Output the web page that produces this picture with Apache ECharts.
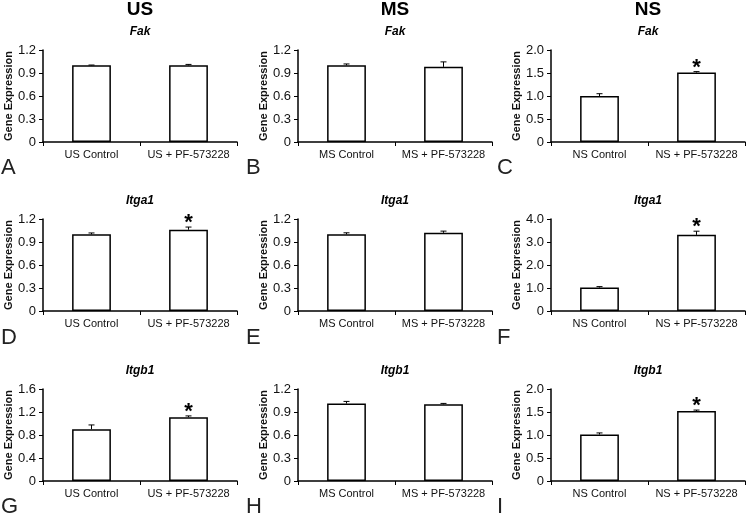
<!DOCTYPE html>
<html>
<head>
<meta charset="utf-8">
<script src="https://cdn.jsdelivr.net/npm/echarts@6/dist/echarts.min.js"></script>
<style>
html,body{margin:0;padding:0;background:#fff;}
#chart{width:750px;height:515px;}
</style>
</head>
<body>
<div id="chart"></div>
<script>
// ---- data ----
const groups = ['US', 'MS', 'NS'];
const genes = ['Fak', 'Itga1', 'Itgb1'];
const panelLetters = ['A', 'B', 'C', 'D', 'E', 'F', 'G', 'H', 'I'];
const categoriesUS = ['US Control', 'US + PF-573228'];
const categoriesMS = ['MS Control', 'MS + PF-573228'];
const categoriesNS = ['NS Control', 'NS + PF-573228'];

// means [control, treated] per group (US, MS, NS)
const fakMeans   = [[1.00, 1.00], [1.00, 0.98], [1.00, 1.51]];
const fakErrors  = [[0.004, 0.012], [0.018, 0.065], [0.05, 0.02]];
const fakSig     = [[0, 0], [0, 0], [0, 1]];

const itga1Means  = [[1.00, 1.06], [1.00, 1.02], [1.02, 3.31]];
const itga1Errors = [[0.018, 0.035], [0.02, 0.022], [0.04, 0.16]];
const itga1Sig    = [[0, 1], [0, 0], [0, 1]];

const itgb1Means  = [[0.90, 1.11], [1.01, 1.00], [1.01, 1.52]];
const itgb1Errors = [[0.075, 0.022], [0.028, 0.012], [0.035, 0.022]];
const itgb1Sig    = [[0, 1], [0, 0], [0, 1]];

// y-axis ranges (max, interval) per panel A..I
const axisMax      = [1.2, 1.2, 2.0, 1.2, 1.2, 4.0, 1.6, 1.2, 2.0];
const axisInterval = [0.3, 0.3, 0.5, 0.3, 0.3, 1.0, 0.4, 0.3, 0.5];

// ---- layout ----
const colLeft = [43, 298, 551];
const rowTop = [50, 219, 389];
const plotW = 194, plotH = 92;
const colLetterX = [1, 246, 497];
const letterTop = [157, 327, 496];

const categoriesByGroup = [categoriesUS, categoriesMS, categoriesNS];
const meansByGene = [fakMeans, itga1Means, itgb1Means];
const errorsByGene = [fakErrors, itga1Errors, itgb1Errors];
const sigByGene = [fakSig, itga1Sig, itgb1Sig];

const FONT = '"Liberation Sans", Arial, sans-serif';

const grids = [], xAxes = [], yAxes = [], series = [], graphics = [];

for (let r = 0; r < 3; r++) {
  for (let c = 0; c < 3; c++) {
    const i = r * 3 + c;
    grids.push({left: colLeft[c], top: rowTop[r], width: plotW, height: plotH, containLabel: false});
    xAxes.push({
      type: 'category', gridIndex: i, data: categoriesByGroup[c],
      axisLine: {lineStyle: {color: '#000', width: 1.5}},
      axisTick: {show: true, length: 4, lineStyle: {color: '#000', width: 1}},
      axisLabel: {color: '#111', fontSize: 11, fontFamily: FONT, margin: 7, interval: 0}
    });
    yAxes.push({
      type: 'value', gridIndex: i, min: 0, max: axisMax[i], interval: axisInterval[i],
      name: 'Gene Expression', nameLocation: 'middle', nameGap: 28,
      nameTextStyle: {color: '#111', fontSize: 11, fontWeight: 'bold', fontFamily: FONT},
      axisLine: {show: true, lineStyle: {color: '#000', width: 1.5}},
      axisTick: {show: true, length: 4, lineStyle: {color: '#000', width: 1}},
      splitLine: {show: false},
      axisLabel: {color: '#111', fontSize: 13, fontFamily: FONT, margin: 7,
        formatter: v => v === 0 ? '0' : v.toFixed(1)}
    });
    const means = meansByGene[r][c];
    const errs = errorsByGene[r][c];
    const sig = sigByGene[r][c];
    series.push({
      type: 'bar', xAxisIndex: i, yAxisIndex: i, data: means, barWidth: '40%',
      itemStyle: {color: '#fff', borderColor: '#000', borderWidth: 1.5},
      silent: true, animation: false
    });
    series.push({
      type: 'custom', xAxisIndex: i, yAxisIndex: i, z: 5, animation: false, silent: true,
      data: means.map((m, k) => [k, m, errs[k], sig[k]]),
      renderItem: function (params, api) {
        const k = api.value(0), m = api.value(1), e = api.value(2), s = api.value(3);
        const base = api.coord([k, m]);
        const top = api.coord([k, m + e]);
        const children = [
          {type: 'line', shape: {x1: base[0], y1: base[1], x2: top[0], y2: top[1]},
           style: {stroke: '#000', lineWidth: 1}},
          {type: 'line', shape: {x1: top[0] - 3, y1: top[1], x2: top[0] + 3, y2: top[1]},
           style: {stroke: '#000', lineWidth: 1}}
        ];
        if (s) {
          children.push({type: 'text', style: {text: '*', x: top[0], y: top[1] - 4,
            textAlign: 'center', textVerticalAlign: 'middle',
            font: 'bold 22px ' + FONT, fill: '#000'}});
        }
        return {type: 'group', children: children};
      }
    });
    // gene title
    graphics.push({type: 'text', x: colLeft[c] + plotW / 2, y: rowTop[r] - 18,
      style: {text: genes[r], textAlign: 'center', textVerticalAlign: 'middle',
        font: 'italic bold 12px ' + FONT, fill: '#000'}});
    // panel letter
    graphics.push({type: 'text', x: colLetterX[c], y: letterTop[r],
      style: {text: panelLetters[i], textAlign: 'left', textVerticalAlign: 'top',
        font: '22px ' + FONT, fill: '#222'}});
  }
}
for (let c = 0; c < 3; c++) {
  graphics.push({type: 'text', x: colLeft[c] + plotW / 2, y: 10,
    style: {text: groups[c], textAlign: 'center', textVerticalAlign: 'middle',
      font: 'bold 19px ' + FONT, fill: '#000'}});
}

const chart = echarts.init(document.getElementById('chart'), null, {renderer: 'canvas'});
chart.setOption({
  backgroundColor: '#fff',
  animation: false,
  grid: grids, xAxis: xAxes, yAxis: yAxes, series: series,
  graphic: graphics
});
</script>
</body>
</html>
